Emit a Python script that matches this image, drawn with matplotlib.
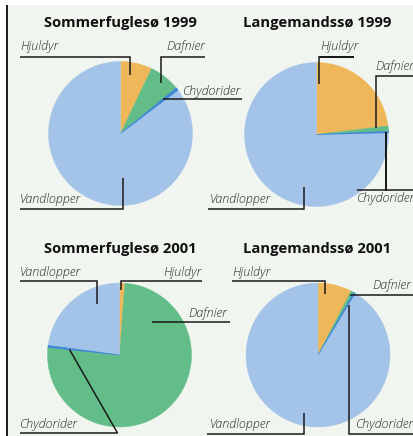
import matplotlib
matplotlib.use("Agg")
import matplotlib.pyplot as plt
from matplotlib.patches import Rectangle

# ---- data: share of each zooplankton group (%) per lake and year ----
groups = ["Hjuldyr", "Dafnier", "Chydorider", "Vandlopper"]
titles = ["Sommerfuglesø 1999", "Langemandssø 1999",
          "Sommerfuglesø 2001", "Langemandssø 2001"]
sommerfuglesoe_1999 = [7.1, 7.0, 0.6, 85.3]
langemandssoe_1999 = [23.1, 1.2, 0.3, 75.4]
sommerfuglesoe_2001 = [1.2, 75.5, 0.4, 22.9]
langemandssoe_2001 = [7.6, 0.7, 0.3, 91.4]
series = [sommerfuglesoe_1999, langemandssoe_1999,
          sommerfuglesoe_2001, langemandssoe_2001]

colors = {"Hjuldyr": "#eeb85a", "Dafnier": "#62bd88",
          "Chydorider": "#3d86d6", "Vandlopper": "#a3c4e8"}
BG = "#f1f5ef"
INK = "#1a1a1a"
TXT = "#2b2b2b"

W, H, DPI = 414, 436, 100
R = 72  # pie radius in pixels

# pie centres (pixels, origin top-left) and title positions
centers = [(120.5, 133.5), (316.5, 134.5), (119.5, 355.0), (318.0, 355.0)]
title_pos = [(120, 27), (317, 27), (120, 253), (317, 253)]

# label layout: (group, x, baseline, ha, leader polyline in pixels)
labels = [
    [("Hjuldyr", 20, 50, "left", [(20, 57), (130, 57), (130, 75)]),
     ("Dafnier", 205, 50, "right", [(205, 57), (161, 57), (161, 83)]),
     ("Chydorider", 183, 95, "left", [(163, 99.5), (242, 99.5)]),
     ("Vandlopper", 20, 203, "left", [(20, 208.5), (123, 208.5), (123, 178)])],
    [("Hjuldyr", 320, 50, "left", [(319, 57), (354.5, 57), (319, 57), (319, 84)]),
     ("Dafnier", 375, 70, "left", [(414, 76), (376, 76), (376, 128)]),
     ("Chydorider", 357, 202, "left", [(414, 190), (386, 190), (386, 132), (386, 190), (357, 190)]),
     ("Vandlopper", 210, 203, "left", [(208, 209), (304.5, 209), (304.5, 187)])],
    [("Vandlopper", 20, 276, "left", [(20, 280.5), (97, 280.5), (97, 304)]),
     ("Hjuldyr", 202, 276, "right", [(202, 280.5), (121, 280.5), (121, 290)]),
     ("Dafnier", 188, 317, "left", [(152, 322), (230, 322)]),
     ("Chydorider", 20, 428, "left", [(20, 433), (117.5, 433), (69.5, 349.5)])],
    [("Hjuldyr", 232, 276, "left", [(232, 280.5), (325.5, 280.5), (325.5, 294)]),
     ("Dafnier", 372, 289, "left", [(350, 294.5), (414, 294.5)]),
     ("Chydorider", 356, 428, "left", [(414, 434), (349, 434), (349, 305)]),
     ("Vandlopper", 210, 428, "left", [(207, 434), (304.5, 434), (304.5, 413)])],
]

fig = plt.figure(figsize=(W / DPI, H / DPI), dpi=DPI)
fig.patch.set_facecolor("white")

# panel background and left rule
base = fig.add_axes([0, 0, 1, 1], zorder=0)
base.set_xlim(0, W)
base.set_ylim(H, 0)
base.axis("off")
base.add_patch(Rectangle((7, 5), W - 7, H - 5, facecolor=BG, edgecolor="none"))
base.plot([6.8, 6.8], [5, H], color=INK, lw=1.4, solid_capstyle="butt")

# pies
for (cx, cy), vals in zip(centers, series):
    ax = fig.add_axes([(cx - R) / W, 1 - (cy + R) / H, 2 * R / W, 2 * R / H], zorder=1)
    wedges, _ = ax.pie(vals, colors=[colors[g] for g in groups], startangle=90,
                       counterclock=False, radius=1.0)
    for g, w in zip(groups, wedges):
        if g == "Chydorider":
            w.set_edgecolor(colors[g])
            w.set_linewidth(0.5)
            w.set_zorder(3)
        else:
            w.set_edgecolor(w.get_facecolor())
            w.set_linewidth(0.3)
    ax.set_xlim(-1, 1)
    ax.set_ylim(-1, 1)
    ax.axis("off")

# titles, labels and leader lines
over = fig.add_axes([0, 0, 1, 1], zorder=2)
over.set_xlim(0, W)
over.set_ylim(H, 0)
over.axis("off")
over.patch.set_alpha(0)

for (tx, ty), t in zip(title_pos, titles):
    over.text(tx, ty, t, ha="center", va="baseline", fontsize=10.6,
              fontweight="bold", family="Open Sans", color="#111111")

for panel in labels:
    for g, x, y, ha, path in panel:
        over.text(x, y, g, ha=ha, va="baseline", fontsize=9, style="italic",
                  fontweight="light", family="Open Sans", color=TXT)
        xs, ys = zip(*path)
        over.plot(xs, ys, color=INK, lw=1.1, solid_capstyle="butt",
                  solid_joinstyle="miter", clip_on=False)

fig.savefig("out.png", dpi=DPI)
